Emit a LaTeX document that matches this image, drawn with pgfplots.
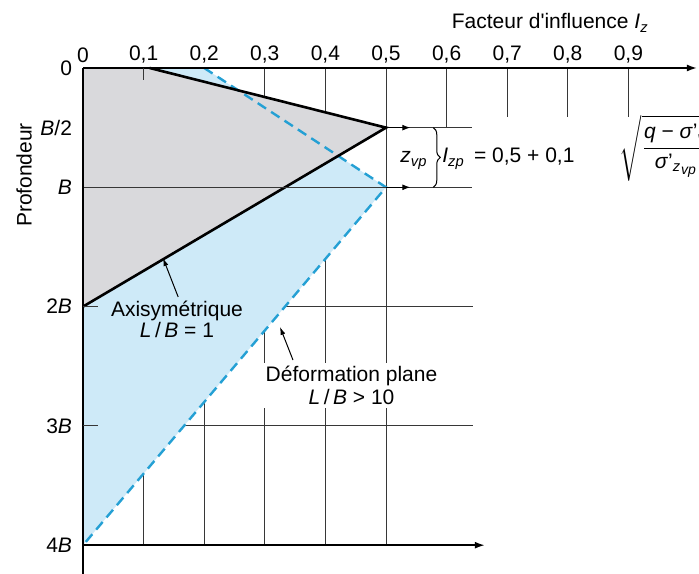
\documentclass[border=0pt]{standalone}
\usepackage{fontspec}
\setmainfont{Liberation Sans}
\usepackage{amsmath}
\usepackage{pgfplots}
\pgfplotsset{compat=1.18}
\usetikzlibrary{arrows.meta,decorations.pathreplacing}
\definecolor{grayfill}{RGB}{217,217,220}
\definecolor{bluefill}{RGB}{206,234,248}
\definecolor{dashblue}{RGB}{36,160,212}
\definecolor{gridc}{RGB}{55,55,55}
\begin{document}
\begin{tikzpicture}[font=\fontsize{10.5}{11.5}\selectfont]
\begin{axis}[
  scale only axis, width=303pt, height=238.6pt,
  xmin=0, xmax=1, ymin=0, ymax=4, y dir=reverse,
  hide axis, clip=false,
]
% grid lines (under the fills)
\draw[gridc, line width=0.5pt] (0.1,0)--(0.1,4);
\draw[gridc, line width=0.5pt] (0.2,0)--(0.2,4);
\draw[gridc, line width=0.5pt] (0.3,0)--(0.3,4);
\draw[gridc, line width=0.5pt] (0.4,0)--(0.4,4);
\draw[gridc, line width=0.5pt] (0.5,0)--(0.5,4);
\draw[gridc, line width=0.5pt] (0.6,0)--(0.6,0.5);
\draw[gridc, line width=0.5pt] (0.7,0)--(0.7,0.41);
\draw[gridc, line width=0.5pt] (0.8,0)--(0.8,0.41);
\draw[gridc, line width=0.5pt] (0.9,0)--(0.9,0.41);
\draw[gridc, line width=0.5pt] (0,0.5)--(0.642,0.5);
\draw[gridc, line width=0.5pt] (0,2)--(0.644,2);
\draw[gridc, line width=0.5pt] (0,3)--(0.644,3);
% fills
\addplot[draw=none, fill=bluefill] coordinates {(0,0) (0.2,0) (0.5,1) (0,4)} -- cycle;
\addplot[draw=none, fill=grayfill] coordinates {(0,0) (0.11,0) (0.5,0.5) (0,2)} -- cycle;
% profiles
\addplot[dashblue, line width=1.2pt, dash pattern=on 5pt off 3pt] coordinates {(0.2,0) (0.5,1) (0,4)};
\addplot[black, line width=1.3pt] coordinates {(0.11,0) (0.5,0.5) (0,2)};
% line at B on top
\draw[gridc, line width=0.5pt] (0,1)--(0.642,1);
% axes
\draw[black, line width=0.8pt, -{Latex[length=5pt,width=3.5pt]}] (0,0)--(1.013,0);
\draw[black, line width=0.8pt] (0,0)--(0,4.241);
\draw[black, line width=0.8pt, -{Latex[length=5pt,width=3.5pt]}] (0,4)--(0.663,4);
\draw[gridc, line width=0.5pt] (0.1,0)--(0.1,0.1);
\draw[gridc, line width=0.5pt] (0,2)--(0.025,2);
\draw[gridc, line width=0.5pt] (0,3)--(0.025,3);
% small arrows at B/2 and B
\draw[black, line width=0.5pt, -{Latex[length=4pt,width=3pt]}] (0.5,0.5)--(0.54,0.5);
\draw[black, line width=0.5pt, -{Latex[length=4pt,width=3pt]}] (0.5,1)--(0.54,1);
% brace
\draw[black, line width=0.5pt, decorate, decoration={brace, amplitude=3.5pt}] (0.578,0.5)--(0.578,1.0);
\node[anchor=base east, inner sep=0pt] at (0.569,0.796) {\textit{z}\textsubscript{\textit{vp}}};
\node[anchor=base west, inner sep=0pt] at (0.5924,0.796) {\textit{I}\textsubscript{\textit{zp}}\, = 0,5 + 0,1};
\node[anchor=west, inner sep=0pt] at (0.885,0.675) {$\displaystyle\sqrt{\dfrac{\text{\textit{q} − \textit{σ}'\textsubscript{\textit{v}}}}{\text{\textit{σ}'\textsubscript{\textit{z}}\raisebox{-0.55ex}{\fontsize{7}{8}\selectfont\textit{vp}}}}}$};
% top tick labels
\node[anchor=south, yshift=-1pt] at (0,0) {0};
\node[anchor=south, yshift=-1pt] at (0.1,0) {0,1};
\node[anchor=south, yshift=-1pt] at (0.2,0) {0,2};
\node[anchor=south, yshift=-1pt] at (0.3,0) {0,3};
\node[anchor=south, yshift=-1pt] at (0.4,0) {0,4};
\node[anchor=south, yshift=-1pt] at (0.5,0) {0,5};
\node[anchor=south, yshift=-1pt] at (0.6,0) {0,6};
\node[anchor=south, yshift=-1pt] at (0.7,0) {0,7};
\node[anchor=south, yshift=-1pt] at (0.8,0) {0,8};
\node[anchor=south, yshift=-1pt] at (0.9,0) {0,9};
\node[anchor=base] at (0.771,-0.327) {Facteur d\textquotesingle influence \textit{I}\textsubscript{\textit{z}}};
% left labels
\node[anchor=east, xshift=-2pt] at (0,0) {0};
\node[anchor=east, xshift=-2pt] at (0,0.5) {\textit{B}/2};
\node[anchor=east, xshift=-2pt] at (0,1) {\textit{B}};
\node[anchor=east, xshift=-2pt] at (0,2) {2\textit{B}};
\node[anchor=east, xshift=-2pt] at (0,3) {3\textit{B}};
\node[anchor=east, xshift=-2pt] at (0,4) {4\textit{B}};
\node[rotate=90] at (-0.097,0.897) {Profondeur};
% annotations
\draw[black, line width=0.5pt, -{Latex[length=4pt,width=2.5pt]}] (0.157,1.919)--(0.132,1.593);
\node[align=center, inner sep=1pt, font=\fontsize{10.5}{10.5}\selectfont] at (0.155,2.104) {Axisymétrique\\\textit{L}\,/\,\textit{B} = 1};
\node[align=center, fill=white, inner sep=1.5pt] at (0.443,2.661) {Déformation plane\\\textit{L}\,/\,\textit{B} > 10};
\draw[black, line width=0.5pt, -{Latex[length=4pt,width=2.5pt]}] (0.3465,2.448)--(0.325,2.17);
% bounding box
\coordinate (bbSW) at (-0.137,4.241);
\coordinate (bbNE) at (1.0165,-0.570);
\end{axis}
\pgfresetboundingbox
\path[use as bounding box] (bbSW) rectangle (bbNE);
\end{tikzpicture}
\end{document}
